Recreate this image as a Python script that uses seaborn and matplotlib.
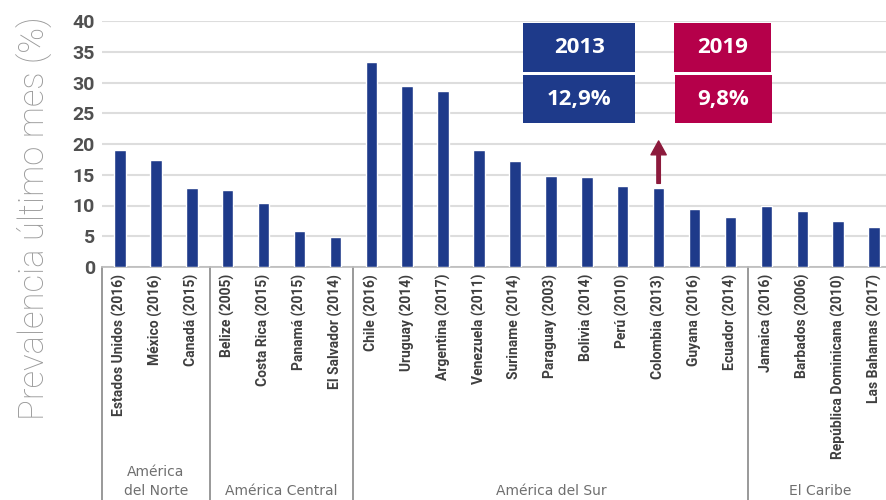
import numpy as np
import pandas as pd
import seaborn as sns
import matplotlib.pyplot as plt
from matplotlib.patches import Rectangle
import matplotlib.transforms as mtransforms

countries = ['Estados Unidos (2016)', 'México (2016)', 'Canadá (2015)',
             'Belize (2005)', 'Costa Rica (2015)', 'Panamá (2015)', 'El Salvador (2014)',
             'Chile (2016)', 'Uruguay (2014)', 'Argentina (2017)', 'Venezuela (2011)',
             'Suriname (2014)', 'Paraguay (2003)', 'Bolivia (2014)', 'Perú (2010)',
             'Colombia (2013)', 'Guyana (2016)', 'Ecuador (2014)',
             'Jamaica (2016)', 'Barbados (2006)', 'República Dominicana (2010)',
             'Las Bahamas (2017)']
prevalence = [19.0, 17.4, 12.8,
              12.5, 10.4, 5.9, 4.9,
              33.3, 29.4, 28.6, 19.1, 17.2, 14.8, 14.6, 13.2, 12.9, 9.4, 8.1,
              9.9, 9.1, 7.5, 6.5]
regions = ['América\ndel Norte', 'América Central', 'América del Sur', 'El Caribe']
region_sizes = [3, 4, 11, 4]
box_years = ['2013', '2019']
box_values = ['12,9%', '9,8%']

BLUE = '#1e3a8a'
RED = '#b5004a'
ARROW = '#8c1a3c'
COND = ['Roboto', 'DejaVu Sans']

df = pd.DataFrame({'pais': countries, 'valor': prevalence})

sns.set_style('white')
fig = plt.figure(figsize=(8.87, 5), dpi=100)
ax = fig.add_axes([0.115, 0.466, 0.885, 0.492])

sns.barplot(data=df, x='pais', y='valor', color=BLUE, width=0.32,
            saturation=1, ax=ax, zorder=3)

ax.set_ylim(0, 40)
ax.set_xlim(-0.5, len(countries) - 0.64)
ax.set_yticks(range(0, 41, 5))
ax.grid(axis='y', color='#dddddd', linewidth=1.5, zorder=0)
ax.set_axisbelow(True)
for s in ['top', 'right', 'left']:
    ax.spines[s].set_visible(False)
ax.spines['bottom'].set_color('#bbbbbb')
ax.spines['bottom'].set_linewidth(1.2)

ax.set_xlabel('')
ax.set_ylabel('Prevalencia último mes (%)', fontsize=25, color='#9a9a9a',
              family=['Roboto', 'DejaVu Sans'], fontweight='light')
ax.yaxis.set_label_coords(-0.085, 0.2, transform=ax.transAxes)
ax.yaxis.label.set_va('center')

ax.tick_params(axis='x', length=0, pad=5)
ax.tick_params(axis='y', length=0, pad=5)
ax.set_xticks(range(len(countries)))
ax.set_xticklabels(countries, rotation=90, fontsize=10, fontweight='bold',
                   color='#3f3f3f', family=COND, va='top', ha='center')
for t in ax.get_yticklabels():
    t.set_fontsize(14)
    t.set_fontweight('bold')
    t.set_color('#505050')
    t.set_family(COND)

# region separators and labels below the axis
trans = mtransforms.blended_transform_factory(ax.transData, ax.transAxes)
bottom = -0.947
edges = np.concatenate([[0], np.cumsum(region_sizes)]) - 0.5
for e in edges[:-1]:
    ax.plot([e, e], [0, bottom], color='#888888', lw=1.2, transform=trans,
            clip_on=False)
for i, name in enumerate(regions):
    mid = (edges[i] + edges[i + 1]) / 2
    ax.text(mid, -0.94, name, transform=trans, ha='center', va='bottom',
            fontsize=10, color='#6f6f6f', linespacing=1.45)

# highlight boxes
boxes = [(0.590, 0.856, 0.126, 0.098, BLUE, box_years[0]),
         (0.590, 0.754, 0.126, 0.096, BLUE, box_values[0]),
         (0.760, 0.856, 0.109, 0.098, RED, box_years[1]),
         (0.761, 0.754, 0.109, 0.096, RED, box_values[1])]
for x0, y0, w, h, c, label in boxes:
    fig.patches.append(Rectangle((x0, y0), w, h, transform=fig.transFigure,
                                 facecolor=c, edgecolor='none', zorder=5))
    fig.text(x0 + w / 2, y0 + h / 2, label, ha='center', va='center',
             fontsize=16, fontweight='bold', color='white',
             family=['Open Sans', 'DejaVu Sans'], zorder=6)

col = countries.index('Colombia (2013)')
ax.annotate('', xy=(col, 20.5), xytext=(col, 13.6),
            arrowprops=dict(facecolor=ARROW, edgecolor=ARROW, width=2.5,
                            headwidth=11, headlength=10), zorder=6)

fig.savefig('out.png', dpi=100)
